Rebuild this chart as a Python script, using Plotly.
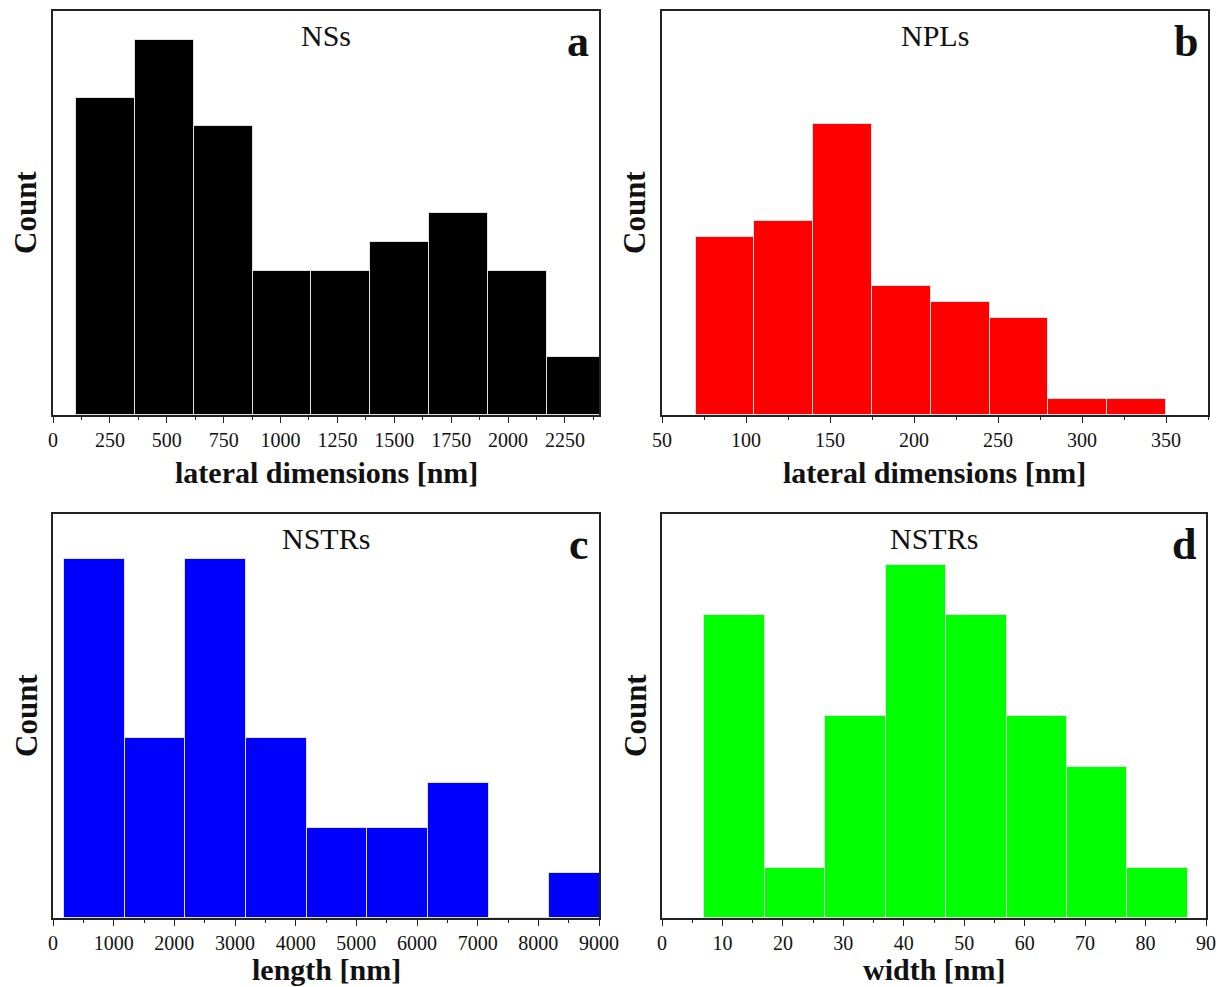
import numpy as np
import plotly.graph_objects as go

W, H = 1221, 987
FONT = "Liberation Serif"

# ---- data ----
ns_edges = [100, 359, 618, 877, 1136, 1395, 1654, 1913, 2172, 2431]
ns_counts = [11, 13, 10, 5, 5, 6, 7, 5, 2]

npl_edges = [70, 105, 140, 175, 210, 245, 280, 315, 350]
npl_counts = [11, 12, 18, 8, 7, 6, 1, 1]

len_edges = [180, 1180, 2180, 3180, 4180, 5180, 6180, 7180, 8180, 9180]
len_counts = [8, 4, 8, 4, 2, 2, 3, 0, 1]

wid_edges = [7, 17, 27, 37, 47, 57, 67, 77, 87]
wid_counts = [6, 1, 4, 7, 6, 4, 3, 1]

panels = [
    dict(edges=ns_edges, counts=ns_counts, color="#000000", xr=[0, 2400], yr=[0, 14],
         dtick=250, minor=125, tick0=0, title="NSs", letter="a", xlabel="lateral dimensions [nm]",
         dom_px=(53, 599, 11, 415), xl_off=58),
    dict(edges=npl_edges, counts=npl_counts, color="#FF0000", xr=[50, 375], yr=[0, 25],
         dtick=50, minor=25, tick0=0, title="NPLs", letter="b", xlabel="lateral dimensions [nm]",
         dom_px=(662, 1208, 11, 415), xl_off=58),
    dict(edges=len_edges, counts=len_counts, color="#0000FF", xr=[0, 9000], yr=[0, 9],
         dtick=1000, minor=500, tick0=0, title="NSTRs", letter="c", xlabel="length [nm]",
         dom_px=(53, 599, 514, 918), xl_off=51),
    dict(edges=wid_edges, counts=wid_counts, color="#00FF00", xr=[0, 90], yr=[0, 8],
         dtick=10, minor=5, tick0=0, title="NSTRs", letter="d", xlabel="width [nm]",
         dom_px=(662, 1206, 514, 918), xl_off=51),
]


def px(xp):
    return xp / W


def py(yp):
    return 1 - yp / H


fig = go.Figure()
annotations = []
for i, p in enumerate(panels):
    n = "" if i == 0 else str(i + 1)
    edges = np.array(p["edges"], dtype=float)
    centers = (edges[:-1] + edges[1:]) / 2
    widths = np.diff(edges)
    fig.add_trace(go.Bar(
        x=centers, y=p["counts"], width=widths,
        marker=dict(color=p["color"], line=dict(color="#e0e0e0", width=1)),
        xaxis="x" + n, yaxis="y" + n, showlegend=False, hoverinfo="x+y",
    ))
    x0, x1, y0, y1 = p["dom_px"]
    fig.update_layout(**{
        "xaxis" + n: dict(
            domain=[px(x0), px(x1)], range=p["xr"], anchor="y" + n, automargin=False,
            showline=True, linecolor="#222", linewidth=1.5, mirror=True,
            ticks="outside", ticklen=6, tickwidth=1, tickcolor="#222",
            tick0=p["tick0"], dtick=p["dtick"], showgrid=False, zeroline=False,
            minor=dict(ticks="outside", ticklen=3, dtick=p["minor"], tick0=p["tick0"],
                       tickcolor="#222", showgrid=False),
            tickfont=dict(family=FONT, size=20, color="#111"),
        ),
        "yaxis" + n: dict(
            domain=[py(y1), py(y0)], range=p["yr"], anchor="x" + n, automargin=False,
            showline=True, linecolor="#222", linewidth=1.5, mirror=True,
            showticklabels=False, ticks="", showgrid=False, zeroline=False,
        ),
    })
    cx = (x0 + x1) / 2
    # panel title
    annotations.append(dict(x=px(cx), y=py(y0 + 24), xref="paper", yref="paper",
                            text=p["title"], showarrow=False, xanchor="center", yanchor="middle",
                            font=dict(family=FONT, size=30, color="#111")))
    # letter
    annotations.append(dict(x=px(x1 - 8), y=py(y0 + 30), xref="paper", yref="paper",
                            text="<b>" + p["letter"] + "</b>", showarrow=False,
                            xanchor="right", yanchor="middle",
                            font=dict(family=FONT, size=44, color="#111")))
    # x label
    annotations.append(dict(x=px(cx), y=py(y1 + p["xl_off"]), xref="paper", yref="paper",
                            text="<b>" + p["xlabel"] + "</b>", showarrow=False,
                            xanchor="center", yanchor="middle",
                            font=dict(family=FONT, size=30, color="#111")))
    # y label
    annotations.append(dict(x=px(x0 - 27), y=py((y0 + y1) / 2), xref="paper", yref="paper",
                            text="<b>Count</b>", showarrow=False, textangle=-90,
                            xanchor="center", yanchor="middle",
                            font=dict(family=FONT, size=31, color="#111")))

fig.update_layout(
    width=W, height=H, margin=dict(l=0, r=0, t=0, b=0, autoexpand=False),
    paper_bgcolor="white", plot_bgcolor="white",
    bargap=0, annotations=annotations,
)

fig.write_html("out.html")
